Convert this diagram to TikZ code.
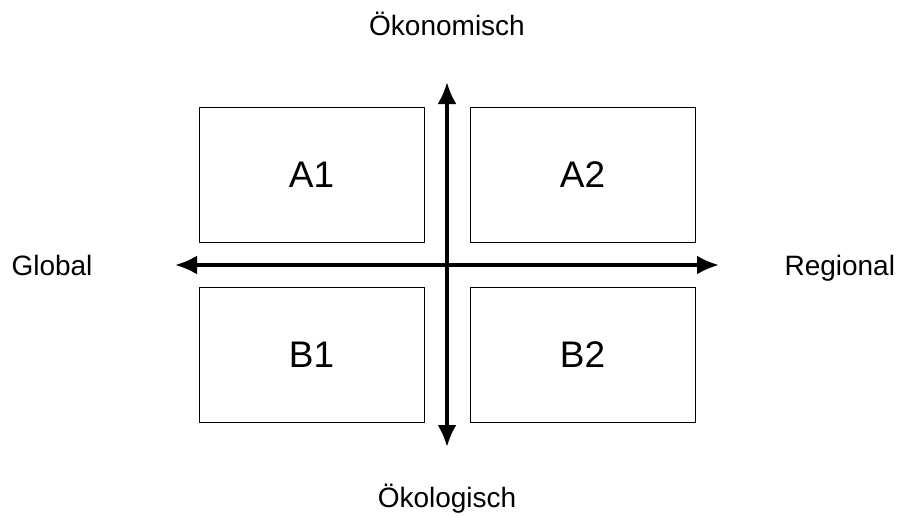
\documentclass[tikz,border=0pt]{standalone}
\usepackage{fontspec}
\setmainfont{Liberation Sans}
\usepackage{tikz}
\usetikzlibrary{arrows.meta, positioning}
\tikzset{
    x=1pt, y=-1pt, % one unit is one pixel of the sketch, y runs downwards
    >={Latex[length=22pt, width=19pt]}, % bold filled arrow heads
    axis/.style={<->, line width=3.5pt}, % the two crossing axes
    quadrant/.style={draw, line width=1pt, minimum width=225pt, minimum height=135pt, font=\fontsize{37}{44}\selectfont}, % the four scenario boxes
    pole/.style={anchor=base, font=\fontsize{28}{34}\selectfont}, % the labels at the ends of the axes
    }
\begin{document}
\begin{tikzpicture}
            \useasboundingbox (0,0) rectangle (899,517);
            \node[quadrant] (a1) at (311.5,174.5) {A1};
            \node[quadrant] (a2) at (582.5,174.5) {A2};
            \node[quadrant] (b1) at (311.5,354.5) {B1};
            \node[quadrant] (b2) at (582.5,354.5) {B2};
            \coordinate (north) at (447,82);
            \coordinate (south) at (447,447);
            \coordinate (west) at (175,265);
            \coordinate (east) at (719,265);
            \draw[axis] (west) -- (east);
            \draw[axis] (south) -- (north);
            \node[pole] (oekonomisch) at (447,35) {Ökonomisch};
            \node[pole] (oekologisch) at (447,507) {Ökologisch};
            \node[pole] (global) at (52,275) {Global};
            \node[pole, anchor=base west] (regional) at (781,275) {Regional};
            \end{tikzpicture}
\end{document}
